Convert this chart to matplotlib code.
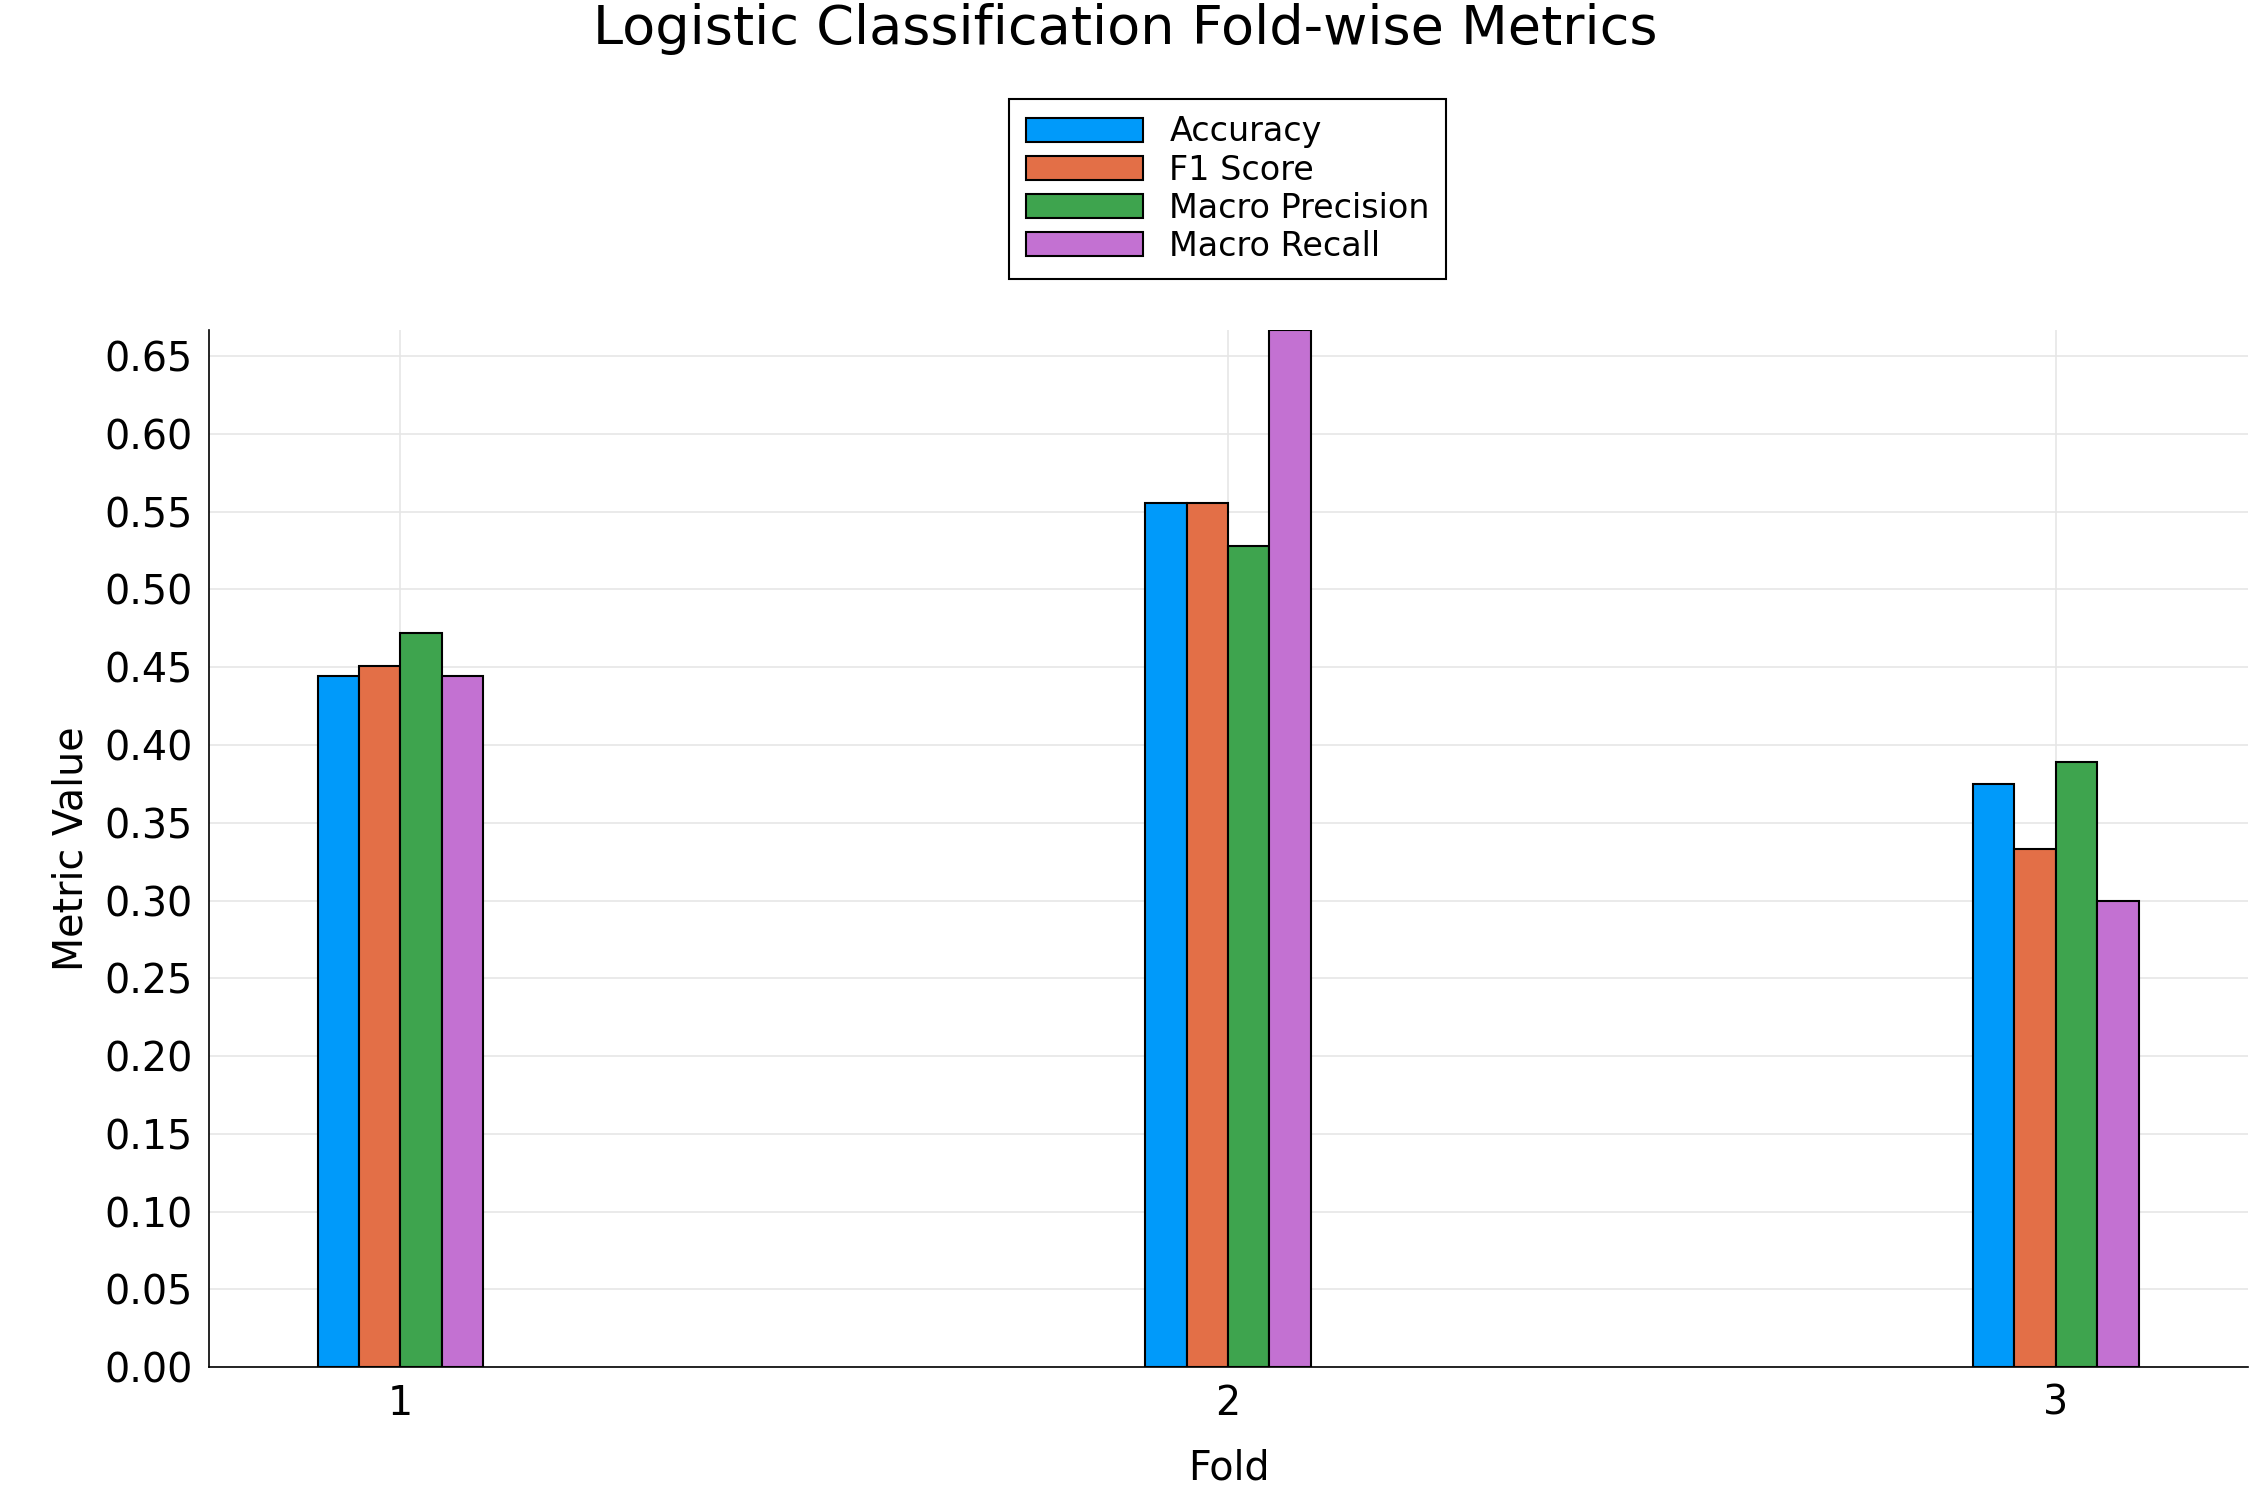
import numpy as np
import matplotlib
matplotlib.use('Agg')
import matplotlib.pyplot as plt

folds = [1, 2, 3]
metricNames = ['Accuracy', 'F1 Score', 'Macro Precision', 'Macro Recall']
accuracy = [0.4444, 0.5556, 0.375]
f1Score = [0.4506, 0.5556, 0.3333]
macroPrecision = [0.4722, 0.5278, 0.3889]
macroRecall = [0.4444, 0.6667, 0.30]
colors = ['#009AFA', '#E36F47', '#3EA44E', '#C371D2']

fig = plt.figure(figsize=(15, 10), dpi=150)
ax = fig.add_axes([0.093, 0.0885, 0.906, 0.6915])

barWidth = 0.05
seriesList = [accuracy, f1Score, macroPrecision, macroRecall]
x = np.array(folds, dtype=float)
for i, (name, vals, col) in enumerate(zip(metricNames, seriesList, colors)):
    offset = (i - 1.5) * barWidth
    ax.bar(x + offset, vals, width=barWidth, color=col, edgecolor='black', linewidth=1.0, label=name, zorder=3)

ax.set_xlim(0.769, 3.232)
ax.set_ylim(0, 0.6667)
ax.set_xticks(folds)
ax.set_yticks(np.arange(0, 0.651, 0.05))
ax.set_yticklabels(['%.2f' % v for v in np.arange(0, 0.651, 0.05)])
ax.tick_params(labelsize=19, length=0, pad=8)
ax.grid(True, color='#e6e6e6', linewidth=0.8, zorder=0)
for s in ['top', 'right']:
    ax.spines[s].set_visible(False)
ax.set_xlabel('Fold', fontsize=19, labelpad=12)
ax.set_ylabel('Metric Value', fontsize=19, labelpad=6)
fig.suptitle('Logistic Classification Fold-wise Metrics', fontsize=26, y=0.998)
ax.legend(loc='center', bbox_to_anchor=(0.5457, 0.874), bbox_transform=fig.transFigure,
          fontsize=16, frameon=True, fancybox=False, edgecolor='black', framealpha=1,
          handlelength=3.5, labelspacing=0.15, borderpad=0.5)
fig.savefig('out.png')
